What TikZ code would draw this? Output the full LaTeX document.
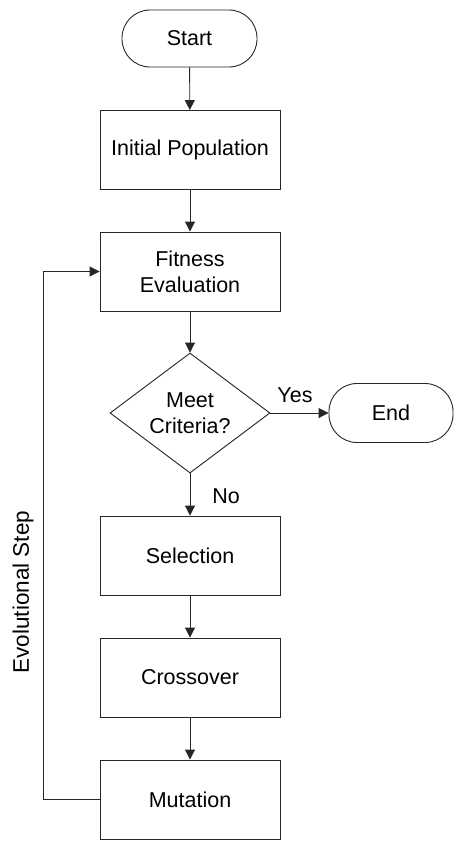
\documentclass[tikz,border=0pt]{standalone}
\usepackage{fontspec}
\setmainfont{Liberation Sans}
\usetikzlibrary{arrows.meta,shapes.geometric}
\begin{document}
\begin{tikzpicture}[x=1pt,y=-1pt,
  every node/.style={font=\fontsize{21.5}{26}\selectfont, align=center, inner sep=0pt},
  line/.style={draw=black!85, line width=0.9pt},
  arr/.style={line, -{Triangle[length=10pt,width=10pt]}},
  procbox/.style={line, rectangle, minimum width=180pt, minimum height=79pt},
  termbox/.style={line, rectangle, rounded corners=28pt, minimum height=57pt},
  decbox/.style={line, diamond, aspect=1.333, minimum width=160pt, minimum height=120pt}
]
\useasboundingbox (0,0) rectangle (454,841);
\node[termbox, minimum width=135pt] (start) at (189.5,38.5) {Start};
\node[procbox] (init) at (190,150) {Initial Population};
\node[procbox] (fit) at (190,271.5) {Fitness\\Evaluation};
\node[decbox] (dec) at (190,413) {Meet\\Criteria?};
\node[termbox, minimum width=124pt, minimum height=59pt] (end) at (391,413) {End};
\node[procbox] (sel) at (190,555.5) {Selection};
\node[procbox] (cross) at (190,677.5) {Crossover};
\node[procbox] (mut) at (190,799.5) {Mutation};
\node (yes) at (295,395) {Yes};
\node (no) at (226,496) {No};
\node[rotate=90, font=\fontsize{22.5}{27}\selectfont] (evo) at (23,592) {Evolutional Step};
\draw[arr] (start) -- (init);
\draw[arr] (init) -- (fit);
\draw[arr] (fit) -- (dec);
\draw[arr] (dec.east) -- (end.west);
\draw[arr] (dec.south) -- (sel.north);
\draw[arr] (sel) -- (cross);
\draw[arr] (cross) -- (mut);
\coordinate (loopc) at (43,799.5);
\draw[arr] (mut.west) -- (loopc) |- (fit.west);
\end{tikzpicture}
\end{document}
